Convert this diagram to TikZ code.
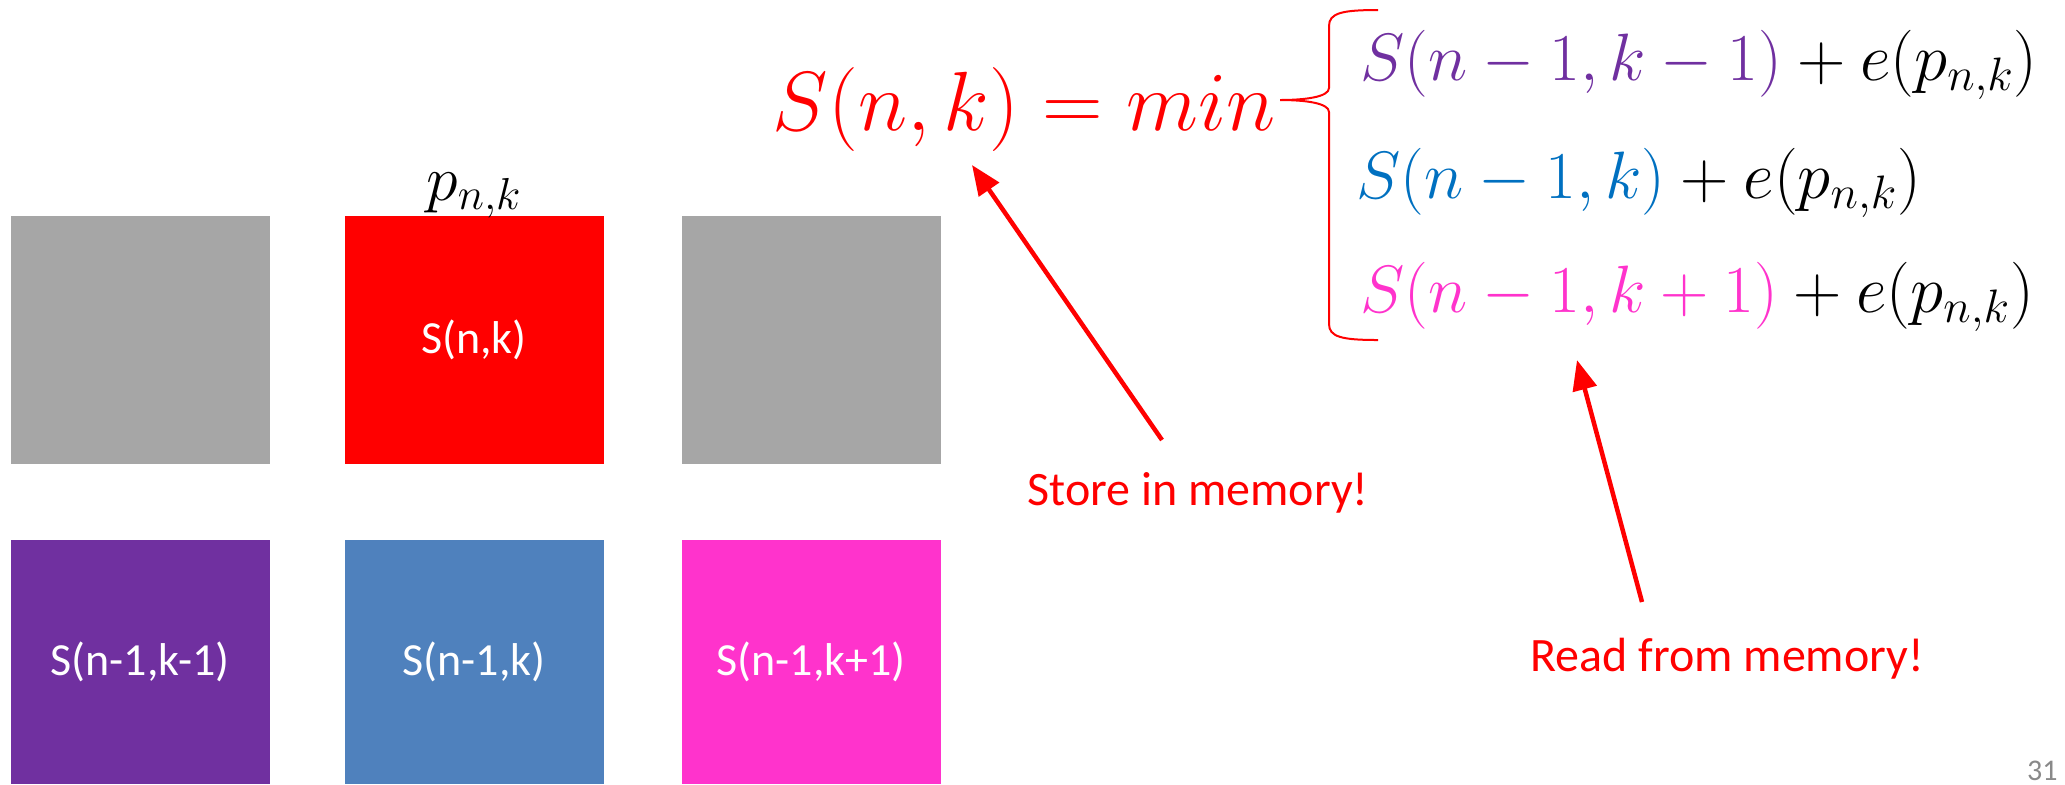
\RequirePackage{fix-cm}
\documentclass[tikz,border=0pt]{standalone}
\usepackage[no-math]{fontspec}
\setmainfont{Carlito}
\usetikzlibrary{arrows.meta}
\definecolor{boxgray}{HTML}{A6A6A6}
\definecolor{boxred}{HTML}{FF0000}
\definecolor{boxpurple}{HTML}{7030A0}
\definecolor{boxblue}{HTML}{4F81BD}
\definecolor{boxpink}{HTML}{FF33CC}
\definecolor{mpurple}{HTML}{7030A0}
\definecolor{mblue}{HTML}{0070C0}
\definecolor{mpink}{HTML}{FF33CC}
\definecolor{pagegray}{HTML}{898989}
\begin{document}
\begin{tikzpicture}[x=0.5pt,y=-0.5pt,
  cell/.style={minimum width=129.5pt, minimum height=124pt, inner sep=0pt, text=white, font=\fontsize{23}{27}\selectfont},
  lowcell/.style={cell, minimum height=122pt},
  mathline/.style={anchor=base west, inner sep=0pt, font=\fontsize{33.5}{40}\selectfont},
  note/.style={anchor=base west, inner sep=0pt, text=red, font=\fontsize{24}{29}\selectfont},
  redarrow/.style={draw=red, line width=2.25pt, -{Triangle[length=15pt,width=12pt]}},
  bracestyle/.style={draw=red, line width=1pt}]
\useasboundingbox (0,0) rectangle (2065,784);

% grid of cells
\node[cell, fill=boxgray] (g1) at (140,340) {};
\node[cell, fill=boxred] (cur) at (474,340) {S(n,k)};
\node[cell, fill=boxgray] (g2) at (811,340) {};
\node[lowcell, fill=boxpurple] (c1) at (140,662) {S(n-1,k-1)};
\node[lowcell, fill=boxblue] (c2) at (474,662) {S(n-1,k)};
\node[lowcell, fill=boxpink] (c3) at (811,662) {S(n-1,k+1)};

\node[anchor=base, inner sep=0pt, font=\fontsize{32}{38}\selectfont] (plab) at (474,200) {$p_{n,k}$};

% recurrence
\node[anchor=base east, inner sep=0pt, text=red, font=\fontsize{42}{50}\selectfont] (rec) at (1276,130) {$S(n,k) = min$};

\draw[bracestyle] (1378,10) .. controls (1342,10) and (1329,13) .. (1329,26) -- (1329,88)
  .. controls (1329,97) and (1305,100) .. (1280,100)
  .. controls (1305,100) and (1329,103) .. (1329,112) -- (1329,324)
  .. controls (1329,337) and (1342,340) .. (1378,340);

\node[mathline] (l1) at (1360,80) {${\color{mpurple}S(n-1,k-1)}+e(p_{n,k})$};
\node[mathline] (l2) at (1356,198) {${\color{mblue}S(n-1,k)}+e(p_{n,k})$};
\node[mathline] (l3) at (1360,312) {${\color{mpink}S(n-1,k+1)}+e(p_{n,k})$};

% notes and arrows
\node[note] (store) at (1027,505) {Store in memory!};
\node[note] (read) at (1530,671) {Read from memory!};
\coordinate (storetail) at (1162,440);
\coordinate (storetip) at (972,165);
\coordinate (readtail) at (1642,602);
\coordinate (readtip) at (1577,360);
\draw[redarrow] (storetail) -- (storetip);
\draw[redarrow] (readtail) -- (readtip);

\node[anchor=base east, inner sep=0pt, text=pagegray, font=\fontsize{15}{18}\selectfont] (num) at (2058,780) {31};
\end{tikzpicture}
\end{document}
